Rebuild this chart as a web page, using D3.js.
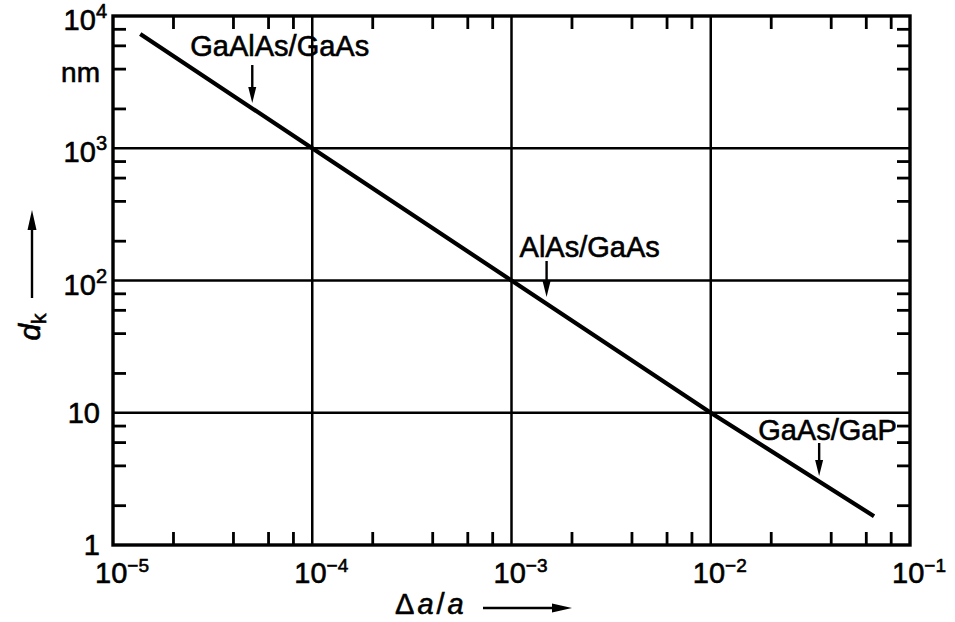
<!DOCTYPE html>
<html>
<head>
<meta charset="utf-8">
<script src="https://cdn.jsdelivr.net/npm/d3@7"></script>
<style>
body { margin: 0; background: #fff; }
text { font-family: "Liberation Sans", Arial, sans-serif; fill: #000; stroke: #000; stroke-width: 0.6px; }
</style>
</head>
<body>
<div id="chart"></div>
<script>
// critical thickness d_k vs lattice mismatch
const lineX = [1.37e-5, 1e-4, 1e-3, 1e-2, 6.6e-2];
const lineY = [7300, 1000, 100, 10, 1.65];

const xDecades = [1e-5, 1e-4, 1e-3, 1e-2, 1e-1];
const xExponents = ['-5', '-4', '-3', '-2', '-1'];
const yDecades = [1, 10, 100, 1000, 10000];
const yBase = ['1', '10', '10', '10', '10'];
const yExponents = ['', '', '2', '3', '4'];
const minorMult = [2, 4, 6, 8];

const annoNames = ['GaAlAs/GaAs', 'AlAs/GaAs', 'GaAs/GaP'];
const annoX = [5e-5, 1.5e-3, 3.5e-2];
const annoY = [2050, 70, 3.1];
// label placement relative to arrow: [dx of text start, gap above arrow tail, arrow length]
const annoLayout = [[-62, 9, 38], [-27, 4, 36], [-61, 3, 33]];

const W = 955, H = 622;
const margin = {top: 16, right: 45, bottom: 77, left: 113};

const svg = d3.select('#chart').append('svg')
	.attr('width', W)
	.attr('height', H);

const x = d3.scaleLog().domain([1e-5, 1e-1]).range([margin.left, W - margin.right]);
const y = d3.scaleLog().domain([1, 1e4]).range([H - margin.bottom, margin.top]);

const x0 = x.range()[0], x1 = x.range()[1];
const y0 = y.range()[0], y1 = y.range()[1];

const xMinor = [], yMinor = [];
xDecades.slice(0, -1).forEach(d => minorMult.forEach(m => xMinor.push(d * m)));
yDecades.slice(0, -1).forEach(d => minorMult.forEach(m => yMinor.push(d * m)));

// grid lines at the inner decades
const grid = svg.append('g').attr('stroke', '#000').attr('stroke-width', 2.5);
grid.selectAll('.vx')
	.data(xDecades.slice(1, -1))
	.enter().append('line')
	.attr('x1', d => x(d)).attr('x2', d => x(d))
	.attr('y1', y0).attr('y2', y1);
grid.selectAll('.hy')
	.data(yDecades.slice(1, -1))
	.enter().append('line')
	.attr('x1', x0).attr('x2', x1)
	.attr('y1', d => y(d)).attr('y2', d => y(d));

// minor ticks pointing inward on all four sides
function tickAxis(axis, tx, ty) {
	const g = svg.append('g')
		.attr('transform', `translate(${tx},${ty})`)
		.call(axis.tickSize(-13).tickSizeOuter(0).tickFormat(''));
	g.select('.domain').remove();
	g.selectAll('.tick line').attr('stroke', '#000').attr('stroke-width', 2.8);
}
tickAxis(d3.axisBottom(x).tickValues(xMinor), 0, y0);
tickAxis(d3.axisTop(x).tickValues(xMinor), 0, y1);
tickAxis(d3.axisLeft(y).tickValues(yMinor), x0, 0);
tickAxis(d3.axisRight(y).tickValues(yMinor), x1, 0);

// frame
svg.append('rect')
	.attr('x', x0).attr('y', y1)
	.attr('width', x1 - x0).attr('height', y0 - y1)
	.attr('fill', 'none')
	.attr('stroke', '#000')
	.attr('stroke-width', 3.4);

// the curve
const line = d3.line().x((d, i) => x(lineX[i])).y(d => y(d));
svg.append('path')
	.datum(lineY)
	.attr('d', line)
	.attr('fill', 'none')
	.attr('stroke', '#000')
	.attr('stroke-width', 4.2)
	.attr('stroke-linecap', 'butt');

// x tick labels
const xl = svg.selectAll('.xlab')
	.data(xDecades)
	.enter().append('text')
	.attr('class', 'xlab')
	.attr('x', d => x(d) + 9)
	.attr('y', 583)
	.attr('text-anchor', 'middle')
	.style('font-size', '29px');
xl.append('tspan').text('10');
xl.append('tspan')
	.attr('dy', -11)
	.style('font-size', '19px')
	.text((d, i) => xExponents[i].replace('-', '\u2212'));

// y tick labels
const yl = svg.selectAll('.ylab')
	.data(yDecades)
	.enter().append('text')
	.attr('class', 'ylab')
	.attr('x', (d, i) => yExponents[i] ? 107 : 100)
	.attr('y', (d, i) => y(d) + (yExponents[i] ? 14 : 10))
	.attr('text-anchor', 'end')
	.style('font-size', '29px');
yl.append('tspan').text((d, i) => yBase[i]);
yl.append('tspan')
	.attr('dy', -12)
	.style('font-size', '20px')
	.text((d, i) => yExponents[i]);

svg.append('text')
	.attr('x', 100).attr('y', 82)
	.attr('text-anchor', 'end')
	.style('font-size', '28px')
	.text('nm');

// arrowhead helper: filled triangle with tip at (tx, ty) pointing in direction (ux, uy)
function arrowHead(tx, ty, ux, uy, len, half) {
	const bx = tx - ux * len, by = ty - uy * len;
	const px = -uy * half, py = ux * half;
	svg.append('path')
		.attr('d', `M${tx},${ty}L${bx + px},${by + py}L${bx - px},${by - py}Z`)
		.attr('fill', '#000');
}

// annotations
annoNames.forEach((name, i) => {
	const ax = x(annoX[i]);
	const tip = y(annoY[i]) - 4;
	const [dx, gap, len] = annoLayout[i];
	const top = tip - len;
	svg.append('line')
		.attr('x1', ax).attr('x2', ax)
		.attr('y1', top).attr('y2', tip - 10)
		.attr('stroke', '#000').attr('stroke-width', 2.4);
	arrowHead(ax, tip, 0, 1, 16, 4);
	svg.append('text')
		.attr('x', ax + dx)
		.attr('y', top - gap)
		.style('font-size', '29px')
		.text(name);
});

// x axis title
const xt = svg.append('text')
	.attr('x', 395).attr('y', 614)
	.style('font-size', '29px')
	.style('letter-spacing', '3px');
xt.append('tspan').text('\u0394');
xt.append('tspan').style('font-style', 'italic').text('a');
xt.append('tspan').text('/');
xt.append('tspan').style('font-style', 'italic').text('a');
svg.append('line')
	.attr('x1', 483).attr('x2', 556)
	.attr('y1', 608).attr('y2', 608)
	.attr('stroke', '#000').attr('stroke-width', 2.4);
arrowHead(572, 608, 1, 0, 20, 4.5);

// y axis title
const yt = svg.append('text')
	.attr('transform', 'translate(40,327) rotate(-90)')
	.attr('text-anchor', 'middle')
	.style('font-size', '30px');
yt.append('tspan').style('font-style', 'italic').text('d');
yt.append('tspan').attr('dy', 6).style('font-size', '21px').text('k');
svg.append('line')
	.attr('x1', 32).attr('x2', 32)
	.attr('y1', 298).attr('y2', 226)
	.attr('stroke', '#000').attr('stroke-width', 2.4);
arrowHead(32, 210, 0, -1, 20, 4.5);
</script>
</body>
</html>
